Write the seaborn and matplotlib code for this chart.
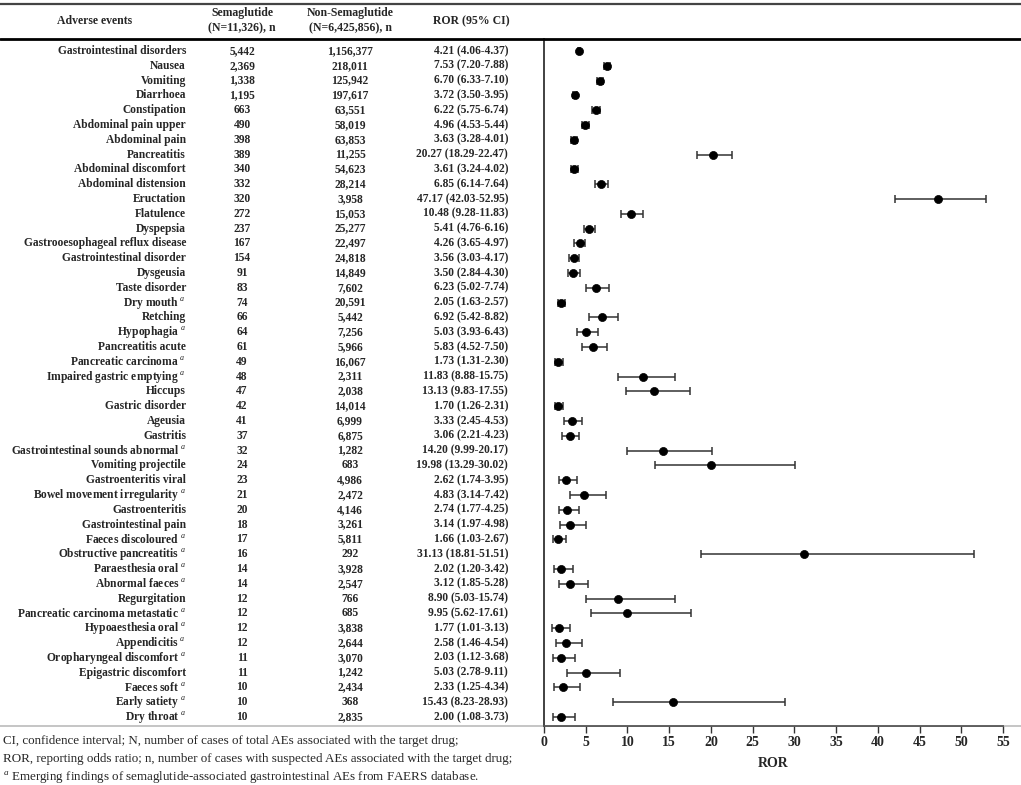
import numpy as np
import pandas as pd
import seaborn as sns
import matplotlib.pyplot as plt
from matplotlib.lines import Line2D
from matplotlib.transforms import blended_transform_factory

# table values
events = ["Gastrointestinal disorders", "Nausea", "Vomiting", "Diarrhoea", "Constipation",
          "Abdominal pain upper", "Abdominal pain", "Pancreatitis", "Abdominal discomfort",
          "Abdominal distension", "Eructation", "Flatulence", "Dyspepsia",
          "Gastrooesophageal reflux disease", "Gastrointestinal disorder", "Dysgeusia",
          "Taste disorder", "Dry mouth", "Retching", "Hypophagia", "Pancreatitis acute",
          "Pancreatic carcinoma", "Impaired gastric emptying", "Hiccups", "Gastric disorder",
          "Ageusia", "Gastritis", "Gastrointestinal sounds abnormal", "Vomiting projectile",
          "Gastroenteritis viral", "Bowel movement irregularity", "Gastroenteritis",
          "Gastrointestinal pain", "Faeces discoloured", "Obstructive pancreatitis",
          "Paraesthesia oral", "Abnormal faeces", "Regurgitation",
          "Pancreatic carcinoma metastatic", "Hypoaesthesia oral", "Appendicitis",
          "Oropharyngeal discomfort", "Epigastric discomfort", "Faeces soft", "Early satiety",
          "Dry throat"]
emerging = [0, 0, 0, 0, 0, 0, 0, 0, 0, 0, 0, 0, 0, 0, 0, 0, 0, 1, 0, 1, 0, 1, 1, 0, 0, 0, 0,
            1, 0, 0, 1, 0, 0, 1, 1, 1, 1, 0, 1, 1, 1, 1, 0, 1, 1, 1]
sema_n = [5442, 2369, 1338, 1195, 663, 490, 398, 389, 340, 332, 320, 272, 237, 167, 154, 91,
          83, 74, 66, 64, 61, 49, 48, 47, 42, 41, 37, 32, 24, 23, 21, 20, 18, 17, 16, 14, 14,
          12, 12, 12, 12, 11, 11, 10, 10, 10]
non_sema_n = [1156377, 218011, 125942, 197617, 63551, 58019, 63853, 11255, 54623, 28214,
              3958, 15053, 25277, 22497, 24818, 14849, 7602, 20591, 5442, 7256, 5966, 16067,
              2311, 2038, 14014, 6999, 6875, 1282, 683, 4986, 2472, 4146, 3261, 5811, 292,
              3928, 2547, 766, 685, 3838, 2644, 3070, 1242, 2434, 368, 2835]
ror = [4.21, 7.53, 6.70, 3.72, 6.22, 4.96, 3.63, 20.27, 3.61, 6.85, 47.17, 10.48, 5.41, 4.26,
       3.56, 3.50, 6.23, 2.05, 6.92, 5.03, 5.83, 1.73, 11.83, 13.13, 1.70, 3.33, 3.06, 14.20,
       19.98, 2.62, 4.83, 2.74, 3.14, 1.66, 31.13, 2.02, 3.12, 8.90, 9.95, 1.77, 2.58, 2.03,
       5.03, 2.33, 15.43, 2.00]
ci_low = [4.06, 7.20, 6.33, 3.50, 5.75, 4.53, 3.28, 18.29, 3.24, 6.14, 42.03, 9.28, 4.76, 3.65,
          3.03, 2.84, 5.02, 1.63, 5.42, 3.93, 4.52, 1.31, 8.88, 9.83, 1.26, 2.45, 2.21, 9.99,
          13.29, 1.74, 3.14, 1.77, 1.97, 1.03, 18.81, 1.20, 1.85, 5.03, 5.62, 1.01, 1.46, 1.12,
          2.78, 1.25, 8.23, 1.08]
ci_high = [4.37, 7.88, 7.10, 3.95, 6.74, 5.44, 4.01, 22.47, 4.02, 7.64, 52.95, 11.83, 6.16,
           4.97, 4.17, 4.30, 7.74, 2.57, 8.82, 6.43, 7.50, 2.30, 15.75, 17.55, 2.31, 4.53, 4.23,
           20.17, 30.02, 3.95, 7.42, 4.25, 4.98, 2.67, 51.51, 3.42, 5.28, 15.74, 17.61, 3.13,
           4.54, 3.68, 9.11, 4.34, 28.93, 3.73]
x_ticks = list(range(0, 60, 5))

df = pd.DataFrame({"event": events, "emerging": emerging, "sema": sema_n,
                   "non_sema": non_sema_n, "ror": ror, "lo": ci_low, "hi": ci_high})
df["pos"] = np.arange(len(df))

sns.set_theme(style="white")
plt.rcParams['font.family'] = ['Liberation Serif', 'DejaVu Serif']
plt.rcParams['mathtext.fontset'] = 'custom'
plt.rcParams['mathtext.rm'] = 'Liberation Serif'
plt.rcParams['mathtext.it'] = 'Liberation Serif:italic'

W, H = 1021, 785
fig = plt.figure(figsize=(W / 100, H / 100), dpi=100)
ax = fig.add_axes([544 / W, 1 - 726 / H, 459 / W, 687 / H])

# forest plot
ax.errorbar(df["ror"], df["pos"], xerr=[df["ror"] - df["lo"], df["hi"] - df["ror"]],
            fmt="none", ecolor="#333333", elinewidth=1.1, capsize=3, capthick=1.1, zorder=2)
sns.scatterplot(data=df, x="ror", y="pos", ax=ax, color="black", s=34,
                edgecolor="black", linewidth=0.5, zorder=3, legend=False)

ax.set_xlim(0, 55)
ax.set_ylim(45.61, -0.81)
ax.set_xticks(x_ticks)
ax.set_xticklabels([str(t) for t in x_ticks], fontweight="bold", fontsize=10)
ax.set_yticks([])
ax.set_xlabel("ROR", fontweight="bold", fontsize=10, labelpad=6)
ax.set_ylabel("")
ax.tick_params(axis="x", direction="out", length=5, width=1, color="#333333", pad=2,
               bottom=True)
sns.despine(ax=ax, top=True, right=True)
ax.spines["left"].set_color("#333333")
ax.spines["left"].set_linewidth(1.3)
ax.spines["bottom"].set_color("#555555")
ax.spines["bottom"].set_linewidth(1.3)

# table text
tr = blended_transform_factory(fig.transFigure, ax.transData)
fs = 8.3
for _, r in df.iterrows():
    name = r["event"] + (r" $^{a}$" if r["emerging"] else "")
    ax.text(186 / W, r["pos"], name, transform=tr, ha="right", va="center",
            fontsize=fs, fontweight="bold", clip_on=False)
    ax.text(242 / W, r["pos"], f"{r['sema']:,}", transform=tr, ha="center", va="center",
            fontsize=fs, fontweight="bold", clip_on=False)
    ax.text(350 / W, r["pos"], f"{r['non_sema']:,}", transform=tr, ha="center",
            va="center", fontsize=fs, fontweight="bold", clip_on=False)
    ax.text(508 / W, r["pos"], f"{r['ror']:.2f} ({r['lo']:.2f}-{r['hi']:.2f})", transform=tr,
            ha="right", va="center", fontsize=fs, fontweight="bold", clip_on=False)

# header
hy = 1 - 21 / H
fig.text(95 / W, hy, "Adverse events", ha="center", va="center", fontsize=8.5,
         fontweight="bold")
fig.text(242 / W, hy, "Semaglutide\n(N=11,326), n", ha="center", va="center", fontsize=8.5,
         fontweight="bold", linespacing=1.35)
fig.text(350 / W, hy, "Non-Semaglutide\n(N=6,425,856), n", ha="center", va="center",
         fontsize=8.5, fontweight="bold", linespacing=1.35)
fig.text(471 / W, hy, "ROR (95% CI)", ha="center", va="center", fontsize=8.5,
         fontweight="bold")

# rules
fig.add_artist(Line2D([0, 1], [1 - 4 / H] * 2, color="#444444", lw=1.6))
fig.add_artist(Line2D([0, 1], [1 - 39 / H] * 2, color="black", lw=2))
fig.add_artist(Line2D([0, 1], [1 - 726 / H] * 2, color="#bbbbbb", lw=1.2, zorder=0))

# footnotes
notes = ["CI, confidence interval; N, number of cases of total AEs associated with the target drug;",
         "ROR, reporting odds ratio; n, number of cases with suspected AEs associated with the target drug;",
         r"$^{a}$ Emerging findings of semaglutide-associated gastrointestinal AEs from FAERS database."]
for i, t in enumerate(notes):
    fig.text(3 / W, 1 - (741 + 18 * i) / H, t, ha="left", va="center", fontsize=9.4)

fig.savefig("out.png", dpi=100)
